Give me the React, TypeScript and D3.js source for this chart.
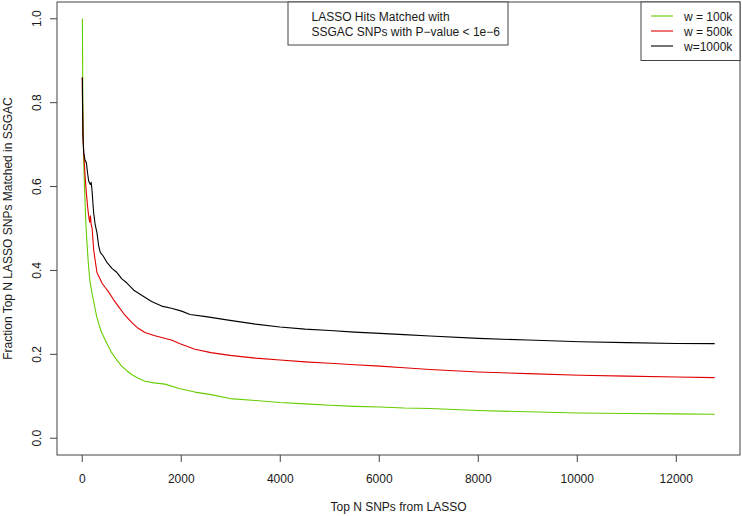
import React from "react";
import * as d3 from "d3";

const W = 742;
const H = 516;

const xTicks = [0, 2000, 4000, 6000, 8000, 10000, 12000];
const yTicks = [0.0, 0.2, 0.4, 0.6, 0.8, 1.0];
const seriesNames = ["w = 100k", "w = 500k", "w=1000k"];
const seriesColors = ["#66CD00", "#E00000", "#000000"];
const titleLines = ["LASSO Hits Matched with", "SSGAC SNPs with P\u2212value < 1e\u22126"];
const xLabel = "Top N SNPs from LASSO";
const yLabel = "Fraction Top N LASSO SNPs Matched in SSGAC";

const greenX = [1, 3, 6, 12, 20, 30, 42, 55, 70, 88, 121, 155, 190, 240, 290, 340, 392, 500, 594, 700, 796, 900, 998, 1130, 1267, 1450, 1671, 1976, 2277, 2600, 2984, 3500, 3994, 4500, 5004, 5500, 6014, 6500, 7024, 8000, 9000, 10000, 11000, 12000, 12776];
const greenY = [1.0, 1.0, 0.93, 0.8, 0.72, 0.66, 0.61, 0.57, 0.52, 0.48, 0.42, 0.375, 0.35, 0.32, 0.291, 0.27, 0.252, 0.225, 0.204, 0.186, 0.172, 0.161, 0.152, 0.143, 0.136, 0.132, 0.129, 0.118, 0.11, 0.104, 0.0945, 0.09, 0.085, 0.082, 0.0786, 0.076, 0.0745, 0.072, 0.0707, 0.066, 0.063, 0.06, 0.059, 0.058, 0.057];

const redX = [1, 5, 15, 30, 55, 83, 110, 130, 150, 165, 180, 200, 230, 260, 297, 358, 398, 460, 525, 634, 727, 850, 998, 1130, 1267, 1450, 1604, 1800, 1976, 2277, 2600, 2984, 3500, 3994, 4500, 5004, 5500, 6014, 6500, 7024, 8000, 9000, 10055, 11000, 12000, 12776];
const redY = [0.86, 0.8, 0.72, 0.68, 0.63, 0.585, 0.55, 0.53, 0.515, 0.53, 0.51, 0.5, 0.45, 0.425, 0.395, 0.38, 0.37, 0.36, 0.35, 0.33, 0.315, 0.295, 0.276, 0.262, 0.252, 0.245, 0.24, 0.234, 0.2254, 0.212, 0.204, 0.1976, 0.191, 0.1865, 0.182, 0.1786, 0.175, 0.172, 0.168, 0.164, 0.158, 0.154, 0.15, 0.148, 0.146, 0.1445];

const blackX = [1, 3, 8, 15, 30, 55, 83, 110, 130, 162, 180, 196, 230, 260, 297, 330, 364, 420, 499, 600, 701, 800, 903, 1050, 1240, 1400, 1604, 1800, 2008, 2176, 2500, 2984, 3500, 3994, 4500, 5004, 5500, 6014, 6500, 7024, 8000, 9000, 10055, 11000, 12000, 12776];
const blackY = [0.86, 0.855, 0.78, 0.72, 0.68, 0.664, 0.657, 0.63, 0.613, 0.605, 0.61, 0.593, 0.538, 0.51, 0.49, 0.46, 0.443, 0.435, 0.419, 0.405, 0.395, 0.38, 0.37, 0.352, 0.338, 0.326, 0.315, 0.31, 0.303, 0.295, 0.29, 0.281, 0.272, 0.265, 0.26, 0.257, 0.253, 0.25, 0.247, 0.2436, 0.238, 0.234, 0.23, 0.228, 0.226, 0.2255];

const seriesX = [greenX, redX, blackX];
const seriesY = [greenY, redY, blackY];

const L = 57, R = 740, T = 2, B = 455;
const xMin = 1, xMax = 12776;
const xPad = (xMax - xMin) * 0.04;
const yPad = 0.04;

const FONT = "'Liberation Sans', Arial, sans-serif";
const AX = "#444";
const TXT = "#1a1a1a";

export default function App() {
  const x = d3.scaleLinear().domain([xMin - xPad, xMax + xPad]).range([L, R]);
  const y = d3.scaleLinear().domain([0 - yPad, 1 + yPad]).range([B, T]);
  const line = d3
    .line<[number, number]>()
    .x((d) => x(d[0]))
    .y((d) => y(d[1]))
    .curve(d3.curveLinear);

  return (
    <div style={{ position: "absolute", left: 0, top: 0 }}>
      <svg width={W} height={H} style={{ display: "block", background: "#fff" }} fontFamily={FONT}>
        <rect x={0} y={0} width={W} height={H} fill="#fff" />
        {seriesX.map((xs, i) => (
          <path
            key={i}
            d={line(xs.map((v, j) => [v, seriesY[i][j]] as [number, number])) || ""}
            fill="none"
            stroke={seriesColors[i]}
            strokeWidth={1.1}
            strokeLinejoin="round"
          />
        ))}
        {/* plot box */}
        <rect x={L} y={T} width={R - L} height={B - T} fill="none" stroke={AX} strokeWidth={1} />
        {/* x axis */}
        {xTicks.map((t) => (
          <g key={t}>
            <line x1={x(t)} x2={x(t)} y1={B} y2={B + 7} stroke={AX} />
            <text x={x(t)} y={483} textAnchor="middle" fontSize={12} fill={TXT}>
              {t}
            </text>
          </g>
        ))}
        {/* y axis */}
        {yTicks.map((t) => (
          <g key={t}>
            <line x1={L - 7} x2={L} y1={y(t)} y2={y(t)} stroke={AX} />
            <text
              transform={`translate(41,${y(t)}) rotate(-90)`}
              textAnchor="middle"
              fontSize={12}
              fill={TXT}
            >
              {t.toFixed(1)}
            </text>
          </g>
        ))}
        <text x={(L + R) / 2} y={511} textAnchor="middle" fontSize={12} fill={TXT}>
          {xLabel}
        </text>
        <text
          transform={`translate(11.5,${(T + B) / 2}) rotate(-90)`}
          textAnchor="middle"
          fontSize={12}
          fill={TXT}
        >
          {yLabel}
        </text>
        {/* title box */}
        <rect x={288} y={T} width={220} height={43} fill="#fff" stroke={AX} />
        {titleLines.map((s, i) => (
          <text key={i} x={311.5} y={20.5 + i * 15} fontSize={12} fill={TXT}>
            {s}
          </text>
        ))}
        {/* legend */}
        <rect x={641} y={T} width={R - 641} height={58.5} fill="#fff" stroke={AX} />
        {seriesNames.map((s, i) => (
          <g key={s}>
            <line x1={651} x2={673} y1={16 + i * 15} y2={16 + i * 15} stroke={seriesColors[i]} strokeWidth={1.1} />
            <text x={684} y={20.5 + i * 15} fontSize={12} fill={TXT}>
              {s}
            </text>
          </g>
        ))}
      </svg>
    </div>
  );
}
